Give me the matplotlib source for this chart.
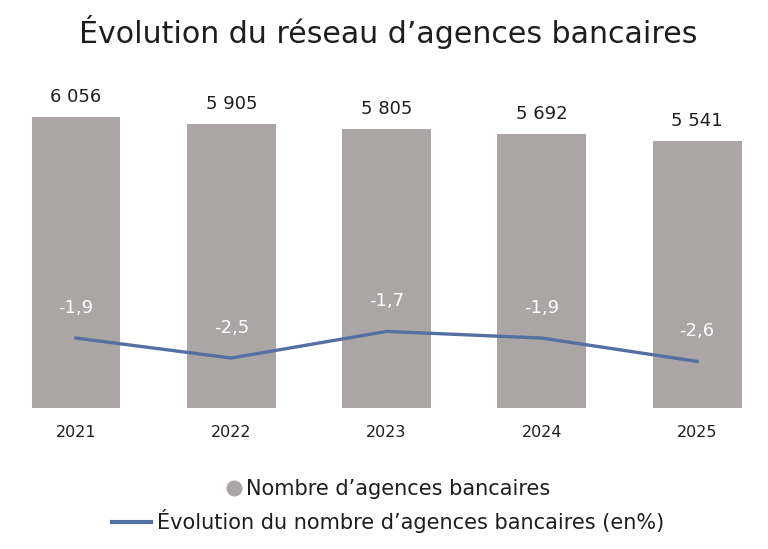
import matplotlib
matplotlib.use("Agg")
import matplotlib.pyplot as plt
from matplotlib.lines import Line2D

years = ["2021", "2022", "2023", "2024", "2025"]
agences = [6056, 5905, 5805, 5692, 5541]
agences_labels = ["6 056", "5 905", "5 805", "5 692", "5 541"]
evolution = [-1.9, -2.5, -1.7, -1.9, -2.6]
evolution_labels = ["-1,9", "-2,5", "-1,7", "-1,9", "-2,6"]

BAR_COLOR = "#aba5a6"
LINE_COLOR = "#5470a3"
TEXT_COLOR = "#1e1e1e"
FONT = ["DejaVu Sans"]

plt.rcParams["font.family"] = FONT

W, H = 768, 549
fig = plt.figure(figsize=(W / 100, H / 100), dpi=100)

ax_bottom = 408
ax_top = 100
ax = fig.add_axes([0, 1 - ax_bottom / H, 1, (ax_bottom - ax_top) / H])
x = list(range(len(years)))
ax.bar(x, agences, width=0.573, color=BAR_COLOR, zorder=1)
ax.set_xlim(-0.4895, 4.457)
ax.set_ylim(0, 6400)
for s in ax.spines.values():
    s.set_visible(False)
ax.set_yticks([])
ax.set_xticks(x)
ax.set_xticklabels(years, fontsize=11.5, color=TEXT_COLOR)
ax.tick_params(axis="x", length=0, pad=12)

for xi, v, lab in zip(x, agences, agences_labels):
    ax.annotate(lab, (xi, v), xytext=(0, 14.4), textcoords="offset points",
                ha="center", va="center", fontsize=13, color=TEXT_COLOR)

ax2 = ax.twinx()
ax2.set_ylim(-4, 5.25)
ax2.set_yticks([])
for s in ax2.spines.values():
    s.set_visible(False)
ax2.plot(x, evolution, color=LINE_COLOR, lw=2.4, zorder=3)
for xi, v, lab in zip(x, evolution, evolution_labels):
    ax2.annotate(lab, (xi, v), xytext=(0, 21.6), textcoords="offset points",
                 ha="center", va="center", fontsize=13, color="white")

fig.text(388 / W, 1 - 43 / H, "Évolution du réseau d’agences bancaires",
         ha="center", va="baseline", fontsize=21.6, color=TEXT_COLOR)

h1 = Line2D([], [], marker="o", linestyle="none", markersize=10.5,
            markerfacecolor=BAR_COLOR, markeredgecolor=BAR_COLOR)
h2 = Line2D([], [], color=LINE_COLOR, lw=3)
leg1 = fig.legend([h1], ["Nombre d’agences bancaires"], loc="center",
                  bbox_to_anchor=(388 / W, 1 - 489 / H), frameon=False,
                  fontsize=15, handlelength=0.75, handletextpad=0.2,
                  labelcolor=TEXT_COLOR)
leg2 = fig.legend([h2], ["Évolution du nombre d’agences bancaires (en%)"],
                  loc="center", bbox_to_anchor=(388 / W, 1 - 521 / H),
                  frameon=False, fontsize=15, handlelength=1.85,
                  handletextpad=0.3, labelcolor=TEXT_COLOR)

fig.savefig("out.png", dpi=100)
